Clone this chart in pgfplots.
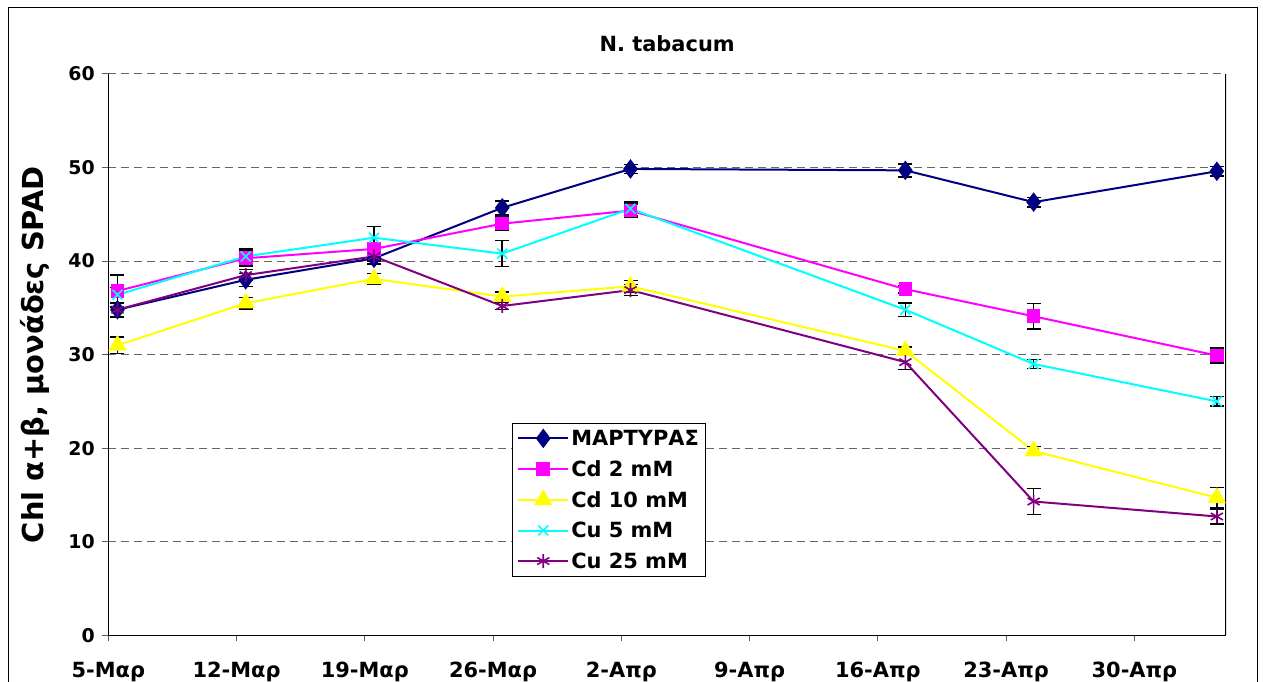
\documentclass[border=0pt]{standalone}
\usepackage{fontspec}
\setmainfont{DejaVu Sans}
\usepackage{pgfplots}
\pgfplotsset{compat=1.18}
\usepackage{pgfplotstable}

\definecolor{navy}{RGB}{0,0,128}
\definecolor{mag}{RGB}{255,0,255}
\definecolor{yel}{RGB}{255,255,0}
\definecolor{cya}{RGB}{0,255,255}
\definecolor{purp}{RGB}{128,0,128}

% x = days after 5 March (Excel plots each point mid-day)
\pgfplotstableread{
x y e
0.5 34.8 0.8
7.5 38.0 0.7
14.5 40.3 0.6
21.5 45.7 0.75
28.5 49.85 0.5
43.5 49.7 0.7
50.5 46.3 0.5
60.5 49.6 0.5
}\martyras
\pgfplotstableread{
x y e
0.5 36.8 1.7
7.5 40.3 0.8
14.5 41.3 0.6
21.5 44.0 0.7
28.5 45.4 0.7
43.5 37.0 0.4
50.5 34.1 1.35
60.5 29.9 0.8
}\cdtwo
\pgfplotstableread{
x y e
0.5 31.0 0.9
7.5 35.5 0.6
14.5 38.1 0.6
21.5 36.2 0.5
28.5 37.3 0.6
43.5 30.4 0.4
50.5 19.7 0.5
60.5 14.7 1.1
}\cdten
\pgfplotstableread{
x y e
0.5 36.4 0.8
7.5 40.5 0.8
14.5 42.5 1.2
21.5 40.8 1.4
28.5 45.6 0.7
43.5 34.8 0.7
50.5 29.0 0.5
60.5 25.0 0.5
}\cufive
\pgfplotstableread{
x y e
0.5 34.8 0.7
7.5 38.5 0.6
14.5 40.5 0.5
21.5 35.2 0.4
28.5 36.9 0.6
43.5 29.2 0.8
50.5 14.3 1.4
60.5 12.7 0.8
}\cutwentyfive

\pgfplotsset{
  ser/.style={color=#1, line width=2bp, mark options={solid, fill=#1, line width=1.6bp},
    error bars/y dir=both, error bars/y explicit,
    error bars/error bar style={black, line width=1.5bp},
    error bars/error mark options={rotate=90, black, mark size=7bp, line width=1.5bp}},
}

\begin{document}
\begin{tikzpicture}[x=1bp,y=1bp]
\useasboundingbox (0,0) rectangle (1263,682);
\draw[line width=1bp] (8,0) -- (8,674) -- (1257,674) -- (1257,0);
\begin{axis}[
  at={(108.3bp,46.7bp)}, anchor=south west,
  scale only axis, width=1117.7bp, height=561.3bp,
  xmin=0, xmax=61, ymin=0, ymax=60,
  xtick={0,7,...,56},
  xticklabels={5-Μαρ,12-Μαρ,19-Μαρ,26-Μαρ,2-Απρ,9-Απρ,16-Απρ,23-Απρ,30-Απρ},
  ytick={0,10,...,60},
  ymajorgrids,
  grid style={gray!80!black, line width=1bp, dash pattern=on 8bp off 5bp},
  axis x line*=bottom, axis y line*=left,
  axis line style={line width=1.3bp, black},
  tick align=outside, major tick length=6bp,
  tick style={line width=1bp, gray!70!black},
  /pgf/number format/assume math mode=true,
  xticklabel style={font=\bfseries\fontsize{21}{24}\selectfont, anchor=base, yshift=-36bp},
  yticklabel style={font=\bfseries\fontsize{19}{22}\selectfont, xshift=-4bp},
  title={N. tabacum},
  title style={font=\bfseries\fontsize{21}{24}\selectfont, at={(0.5,1)}, anchor=base, yshift=17bp},
  ylabel={Chl α+β, μονάδες SPAD},
  ylabel style={font=\bfseries\fontsize{29}{32}\selectfont, at={(axis description cs:-0.058,0.5)}, anchor=base},
  legend style={at={(rel axis cs:0.361,0.379)}, anchor=north west, draw=black, line width=1bp,
    font=\bfseries\fontsize{21}{24}\selectfont, row sep=9.5bp, inner sep=5bp,
    cells={anchor=west}},
  legend image code/.code={\draw[mark repeat=2,mark phase=2,#1] plot coordinates {(0bp,0bp) (25bp,0bp) (50bp,0bp)};},
]
\draw[line width=1.3bp, black] (rel axis cs:1,0) -- (rel axis cs:1,1);
\addplot[ser=navy, mark=diamond*, mark size=8.5bp] table[x=x,y=y,y error=e] {\martyras};
\addlegendentry{ΜΑΡΤΥΡΑΣ}
\addplot[ser=mag, mark=square*, mark size=6bp] table[x=x,y=y,y error=e] {\cdtwo};
\addlegendentry{Cd 2 mM}
\addplot[ser=yel, mark=triangle*, mark size=9bp] table[x=x,y=y,y error=e] {\cdten};
\addlegendentry{Cd 10 mM}
\addplot[ser=cya, mark=x, mark size=7bp] table[x=x,y=y,y error=e] {\cufive};
\addlegendentry{Cu 5 mM}
\addplot[ser=purp, mark=asterisk, mark size=7bp] table[x=x,y=y,y error=e] {\cutwentyfive};
\addlegendentry{Cu 25 mM}
\end{axis}
\end{tikzpicture}
\end{document}
